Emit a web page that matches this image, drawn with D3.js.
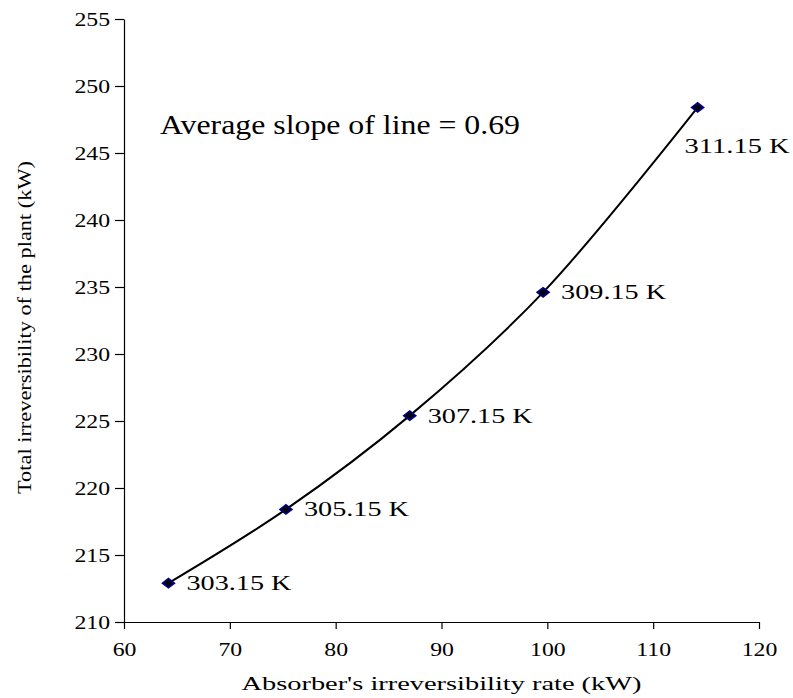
<!DOCTYPE html>
<html>
<head>
<meta charset="utf-8">
<script src="https://cdn.jsdelivr.net/npm/d3@7"></script>
<style>
  body { margin: 0; background: #fff; }
  svg { display: block; }
  .axis text { font-family: "Liberation Serif", "Times New Roman", serif; font-size: 19px; fill: #000; }
  .axis path, .axis line { stroke: #000; stroke-width: 1.2; }
</style>
</head>
<body>
<svg id="chart" width="793" height="698"></svg>
<script>
// absorber irreversibility rate (kW) vs total plant irreversibility (kW)
const absorberRate = [64.2, 75.3, 87.0, 99.6, 114.2];
const totalIrrev = [212.9, 218.4, 225.4, 234.6, 248.4];
const tempLabels = ["303.15 K", "305.15 K", "307.15 K", "309.15 K", "311.15 K"];
const xTicks = [60, 70, 80, 90, 100, 110, 120];
const yTicks = [210, 215, 220, 225, 230, 235, 240, 245, 250, 255];

var svg = d3.select("#chart");
var M = { left: 124, right: 759, top: 19, bottom: 622 };
var SERIF = "'Liberation Serif', 'Times New Roman', serif";

var x = d3.scaleLinear().domain([60, 120]).range([M.left, M.right]);
var y = d3.scaleLinear().domain([210, 255]).range([M.bottom, M.top]);

var pts = absorberRate.map(function (d, i) {
    return { x: d, y: totalIrrev[i], label: tempLabels[i] };
});

// widen text a bit, the original is stretched horizontally
function stretch(sel, k) {
    sel.each(function () {
        var w = this.getComputedTextLength();
        d3.select(this)
            .attr("textLength", w * k)
            .attr("lengthAdjust", "spacingAndGlyphs");
    });
}

// axes
var gx = svg.append("g")
    .attr("class", "axis")
    .attr("transform", "translate(0," + M.bottom + ")")
    .call(d3.axisBottom(x).tickValues(xTicks).tickSize(7).tickSizeOuter(0).tickPadding(14));
stretch(gx.selectAll("text"), 1.25);

var gy = svg.append("g")
    .attr("class", "axis")
    .attr("transform", "translate(" + M.left + ",0)")
    .call(d3.axisLeft(y).tickValues(yTicks).tickSize(9).tickSizeOuter(0).tickPadding(5));
stretch(gy.selectAll("text"), 1.25);

// axis titles
svg.append("text")
    .attr("x", (M.left + M.right) / 2)
    .attr("y", 690)
    .attr("text-anchor", "middle")
    .attr("font-family", SERIF)
    .attr("font-size", 19)
    .attr("textLength", 400)
    .attr("lengthAdjust", "spacingAndGlyphs")
    .text("Absorber's irreversibility rate (kW)");

svg.append("text")
    .attr("transform", "translate(31," + ((M.top + M.bottom) / 2 + 7) + ") rotate(-90)")
    .attr("text-anchor", "middle")
    .attr("font-family", SERIF)
    .attr("font-size", 19)
    .attr("textLength", 333)
    .attr("lengthAdjust", "spacingAndGlyphs")
    .text("Total irreversibility of the plant (kW)");

// curve
var line = d3.line()
    .x(function (d) { return x(d.x); })
    .y(function (d) { return y(d.y); })
    .curve(d3.curveCatmullRom.alpha(0.5));

svg.append("path")
    .datum(pts)
    .attr("d", line)
    .attr("fill", "none")
    .attr("stroke", "#000")
    .attr("stroke-width", 2);

// markers: wide diamonds
svg.selectAll(".pt")
    .data(pts)
    .enter().append("path")
    .attr("class", "pt")
    .attr("transform", function (d) {
        return "translate(" + x(d.x) + "," + y(d.y) + ") scale(1.3,1) rotate(45)";
    })
    .attr("d", d3.symbol().type(d3.symbolSquare).size(40))
    .attr("fill", "#000")
    .attr("stroke", "#000080")
    .attr("stroke-width", 1.6);

// temperature labels
svg.selectAll(".lbl")
    .data(pts)
    .enter().append("text")
    .attr("class", "lbl")
    .attr("x", function (d, i) { return x(d.x) + (i == 4 ? -13 : 18); })
    .attr("y", function (d, i) { return y(d.y) + (i == 4 ? 46 : 7); })
    .attr("font-family", SERIF)
    .attr("font-size", 20)
    .attr("textLength", 105)
    .attr("lengthAdjust", "spacingAndGlyphs")
    .text(function (d) { return d.label; });

svg.append("text")
    .attr("x", 160)
    .attr("y", 134)
    .attr("font-family", SERIF)
    .attr("font-size", 27)
    .attr("textLength", 360)
    .attr("lengthAdjust", "spacingAndGlyphs")
    .text("Average slope of line = 0.69");
</script>
</body>
</html>
